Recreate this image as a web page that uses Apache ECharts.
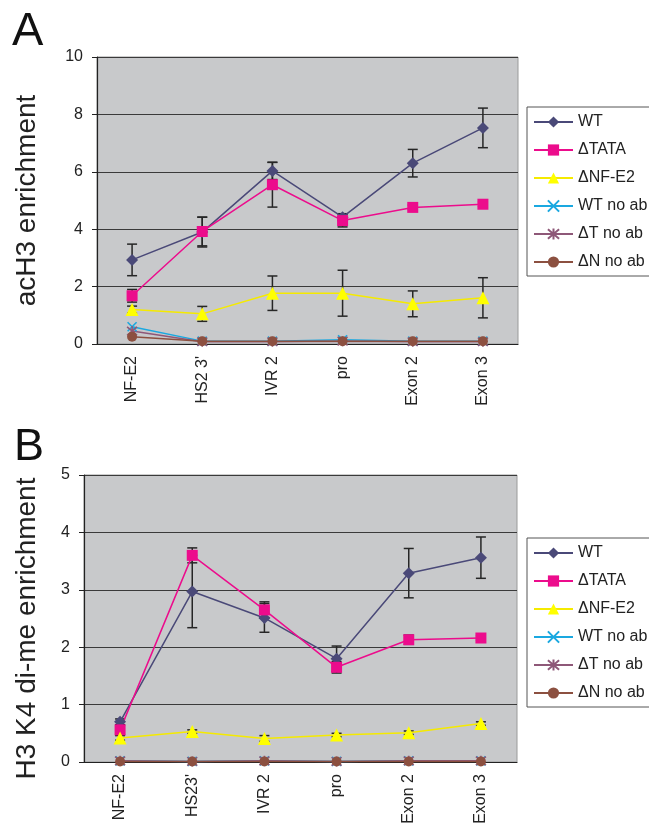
<!DOCTYPE html>
<html>
<head>
<meta charset="utf-8">
<script src="https://cdn.jsdelivr.net/npm/echarts@6/dist/echarts.min.js"></script>
<style>
  html, body { margin: 0; background: #fff; }
  #chart { width: 649px; height: 835px; }
</style>
</head>
<body>
<div id="chart"></div>
<script>
// categories
const catsA = ['NF-E2', "HS2 3'", 'IVR 2', 'pro', 'Exon 2', 'Exon 3']
const catsB = ['NF-E2', "HS23'", 'IVR 2', 'pro', 'Exon 2', 'Exon 3']
const names = ['WT', '\u0394TATA', '\u0394NF-E2', 'WT no ab', '\u0394T no ab', '\u0394N no ab']

// panel A - acH3
const wtA = [2.93, 3.9, 6.03, 4.42, 6.3, 7.53]
const tataA = [1.68, 3.92, 5.55, 4.3, 4.76, 4.87]
const nfe2A = [1.2, 1.05, 1.77, 1.77, 1.4, 1.61]
const wtNoAbA = [0.6, 0.1, 0.1, 0.15, 0.1, 0.1]
const tNoAbA = [0.45, 0.08, 0.08, 0.1, 0.08, 0.08]
const nNoAbA = [0.25, 0.1, 0.1, 0.1, 0.1, 0.1]
const wtErrA = [0.55, 0.52, 0.3, 0.12, 0.48, 0.69]
const tataErrA = [0.22, 0.5, 0.78, 0.22, 0.08, 0.08]
const nfe2ErrA = [0.12, 0.26, 0.6, 0.8, 0.45, 0.7]

// panel B - H3 K4 di-me
const wtB = [0.7, 2.97, 2.51, 1.8, 3.29, 3.56]
const tataB = [0.56, 3.6, 2.65, 1.65, 2.13, 2.16]
const nfe2B = [0.42, 0.53, 0.41, 0.47, 0.51, 0.67]
const wtNoAbB = [0.02, 0.01, 0.02, 0.01, 0.02, 0.02]
const tNoAbB = [0.02, 0.01, 0.02, 0.01, 0.02, 0.02]
const nNoAbB = [0.01, 0.01, 0.01, 0.01, 0.01, 0.01]
const wtErrB = [0.05, 0.63, 0.25, 0.22, 0.43, 0.36]
const tataErrB = [0.08, 0.13, 0.14, 0.1, 0.08, 0.04]
const nfe2ErrB = [0.04, 0.03, 0.05, 0.03, 0.03, 0.03]

const font = 'Liberation Sans, Arial, sans-serif'
const styles = [
  { color: '#4a4978', symbol: 'diamond', size: 12 },
  { color: '#ec0c8c', symbol: 'rect', size: 11 },
  { color: '#f5ea00', fill: '#ffff00', symbol: 'triangle', size: 13 },
  { color: '#1aa8e0', symbol: 'path://M0,0L10,10M0,10L10,0', size: 9, stroke: true },
  { color: '#8e5878', symbol: 'path://M0,0L10,10M0,10L10,0M5,-1L5,11', size: 10, stroke: true },
  { color: '#8c5040', symbol: 'circle', size: 10 }
]

function lineSeries(idx, data, grid) {
  const s = styles[idx]
  return {
    name: names[idx],
    type: 'line',
    xAxisIndex: grid,
    yAxisIndex: grid,
    data: data,
    symbol: s.symbol,
    symbolSize: s.size,
    lineStyle: { color: s.color, width: 1.5 },
    itemStyle: {
      color: s.stroke ? 'rgba(0,0,0,0)' : (s.fill || s.color),
      borderColor: s.stroke ? s.color : (s.fill || s.color),
      borderWidth: s.stroke ? 1.6 : 0
    },
    z: 4,
    animation: false
  }
}

// error bars sit under the markers
function errorBars(vals, errs, grid) {
  return {
    type: 'custom',
    xAxisIndex: grid,
    yAxisIndex: grid,
    silent: true,
    z: 3,
    data: vals.map((v, i) => [i, v - errs[i], v + errs[i]]),
    encode: { x: 0, y: [1, 2] },
    renderItem(params, api) {
      const lo = api.coord([api.value(0), api.value(1)])
      const hi = api.coord([api.value(0), api.value(2)])
      const w = 5
      const st = { stroke: '#262626', lineWidth: 1.5 }
      return {
        type: 'group',
        children: [
          { type: 'line', shape: { x1: lo[0], y1: lo[1], x2: hi[0], y2: hi[1] }, style: st },
          { type: 'line', shape: { x1: lo[0] - w, y1: lo[1], x2: lo[0] + w, y2: lo[1] }, style: st },
          { type: 'line', shape: { x1: hi[0] - w, y1: hi[1], x2: hi[0] + w, y2: hi[1] }, style: st }
        ]
      }
    },
    animation: false
  }
}

function xAxis(cats, grid) {
  return {
    type: 'category',
    gridIndex: grid,
    data: cats,
    boundaryGap: true,
    axisLine: { lineStyle: { color: '#222', width: 1.2 } },
    axisTick: { length: 6, lineStyle: { color: '#222' } },
    axisLabel: { rotate: 90, fontSize: 16, color: '#222', fontFamily: font, margin: 12 }
  }
}

function yAxis(max, interval, name, grid, gap, size, pad) {
  return {
    type: 'value',
    gridIndex: grid,
    min: 0,
    max: max,
    interval: interval,
    name: name,
    nameLocation: 'middle',
    nameGap: gap,
    nameTextStyle: { fontSize: size, color: '#222', fontFamily: font, padding: pad },
    axisLine: { show: true, lineStyle: { color: '#222', width: 1.2 } },
    axisTick: { show: true, length: 5, lineStyle: { color: '#222' } },
    axisLabel: { fontSize: 16, color: '#222', fontFamily: font, margin: 14 },
    splitLine: { lineStyle: { color: '#3a3a3a', width: 1.2 } }
  }
}

function legend(top) {
  return {
    orient: 'vertical',
    left: 527,
    top: top,
    width: 110,
    data: names,
    itemWidth: 39,
    itemHeight: 14,
    itemGap: 12,
    padding: [7, 6, 6, 6],
    borderColor: '#555',
    borderWidth: 1,
    textStyle: { fontSize: 16, color: '#222', fontFamily: font },
    selectedMode: false
  }
}

const chart = echarts.init(document.getElementById('chart'))
chart.setOption({
  backgroundColor: '#fff',
  animation: false,
  title: [
    { text: 'A', left: 7, top: 4, textStyle: { fontSize: 47, fontWeight: 'normal', color: '#111', fontFamily: font } },
    { text: 'B', left: 9, top: 420, textStyle: { fontSize: 45, fontWeight: 'normal', color: '#111', fontFamily: font } }
  ],
  grid: [
    { left: 97, top: 57, width: 421, height: 287, show: true, backgroundColor: '#c8c9cb', borderColor: '#9a9a9a', borderWidth: 1 },
    { left: 84, top: 475, width: 433, height: 287, show: true, backgroundColor: '#c8c9cb', borderColor: '#9a9a9a', borderWidth: 1 }
  ],
  xAxis: [xAxis(catsA, 0), xAxis(catsB, 1)],
  yAxis: [
    yAxis(10, 2, 'acH3 enrichment', 0, 56, 28, 0),
    yAxis(5, 1, 'H3 K4 di-me enrichment', 1, 43, 28, [0, 20, 0, 0])
  ],
  legend: [legend(107), legend(538)],
  series: [
    lineSeries(0, wtA, 0),
    lineSeries(1, tataA, 0),
    lineSeries(2, nfe2A, 0),
    lineSeries(3, wtNoAbA, 0),
    lineSeries(4, tNoAbA, 0),
    lineSeries(5, nNoAbA, 0),
    errorBars(wtA, wtErrA, 0),
    errorBars(tataA, tataErrA, 0),
    errorBars(nfe2A, nfe2ErrA, 0),
    lineSeries(0, wtB, 1),
    lineSeries(1, tataB, 1),
    lineSeries(2, nfe2B, 1),
    lineSeries(3, wtNoAbB, 1),
    lineSeries(4, tNoAbB, 1),
    lineSeries(5, nNoAbB, 1),
    errorBars(wtB, wtErrB, 1),
    errorBars(tataB, tataErrB, 1),
    errorBars(nfe2B, nfe2ErrB, 1)
  ]
})
</script>
</body>
</html>
